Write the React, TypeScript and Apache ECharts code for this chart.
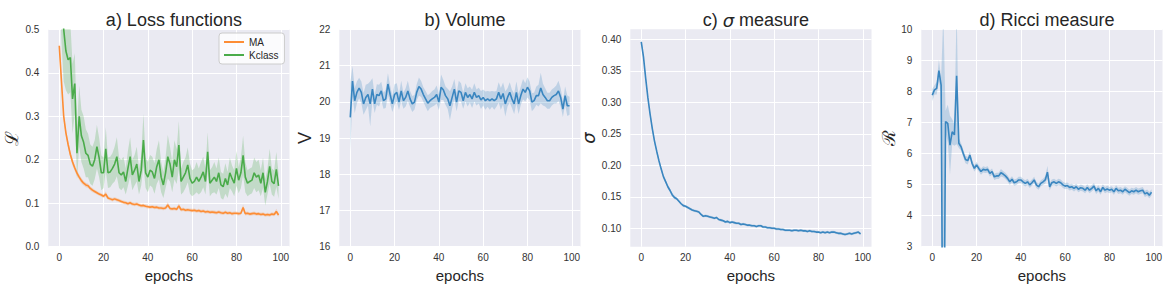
import React, { useEffect, useRef } from "react";
import * as echarts from "echarts";

const epochs: number[] = Array.from({ length: 100 }, (_, i) => i);
const xTicks = [0, 20, 40, 60, 80, 100];

const titles = ["a) Loss functions", "b) Volume", "c) σ measure", "d) Ricci measure"];

// a) Loss functions
const maMean = [
  0.462, 0.38, 0.30, 0.262, 0.235, 0.212, 0.195, 0.181, 0.169, 0.160,
  0.152, 0.146, 0.142, 0.140, 0.134, 0.130, 0.127, 0.124, 0.121, 0.119,
  0.116, 0.121, 0.112, 0.110, 0.108, 0.110, 0.108, 0.106, 0.104, 0.102,
  0.101, 0.099, 0.101, 0.098, 0.097, 0.098, 0.096, 0.094, 0.095, 0.093,
  0.092, 0.091, 0.092, 0.090, 0.091, 0.089, 0.089, 0.088, 0.089, 0.096,
  0.088, 0.087, 0.088, 0.086, 0.094, 0.085, 0.086, 0.084, 0.085, 0.084,
  0.083, 0.084, 0.082, 0.083, 0.081, 0.082, 0.080, 0.081, 0.079, 0.080,
  0.079, 0.078, 0.080, 0.078, 0.077, 0.079, 0.077, 0.078, 0.076, 0.077,
  0.077, 0.076, 0.077, 0.090, 0.076, 0.077, 0.075, 0.076, 0.077, 0.075,
  0.076, 0.074, 0.075, 0.073, 0.074, 0.073, 0.075, 0.074, 0.081, 0.073,
];
const maCi = [
  0.012, 0.012, 0.010, 0.008, 0.008, 0.008, 0.008, 0.007, 0.007, 0.006,
  0.006, 0.005, 0.005, 0.005, 0.005, 0.005, 0.004, 0.004, 0.004, 0.004,
  0.004, 0.006, 0.004, 0.004, 0.004, 0.004, 0.004, 0.004, 0.004, 0.004,
  0.004, 0.004, 0.004, 0.004, 0.004, 0.004, 0.004, 0.004, 0.004, 0.004,
  0.004, 0.004, 0.004, 0.004, 0.004, 0.004, 0.004, 0.004, 0.004, 0.006,
  0.004, 0.004, 0.004, 0.004, 0.006, 0.004, 0.004, 0.004, 0.004, 0.004,
  0.004, 0.004, 0.004, 0.004, 0.004, 0.004, 0.004, 0.004, 0.004, 0.004,
  0.004, 0.004, 0.004, 0.004, 0.004, 0.004, 0.004, 0.004, 0.004, 0.004,
  0.004, 0.004, 0.004, 0.007, 0.004, 0.004, 0.004, 0.004, 0.004, 0.004,
  0.004, 0.004, 0.004, 0.004, 0.004, 0.004, 0.004, 0.004, 0.006, 0.004,
];
const kMean = [
  0.80, 0.62, 0.50, 0.45, 0.43, 0.435, 0.34, 0.375, 0.215, 0.30,
  0.255, 0.24, 0.215, 0.21, 0.19, 0.185, 0.20, 0.23, 0.205, 0.17,
  0.17, 0.225, 0.17, 0.172, 0.18, 0.19, 0.207, 0.17, 0.165, 0.172,
  0.15, 0.18, 0.207, 0.165, 0.176, 0.19, 0.15, 0.176, 0.245, 0.17,
  0.16, 0.176, 0.172, 0.157, 0.184, 0.20, 0.16, 0.142, 0.17, 0.207,
  0.19, 0.16, 0.20, 0.184, 0.234, 0.15, 0.16, 0.17, 0.188, 0.157,
  0.146, 0.15, 0.16, 0.15, 0.16, 0.172, 0.15, 0.218, 0.146, 0.153,
  0.16, 0.15, 0.17, 0.142, 0.138, 0.157, 0.142, 0.17, 0.157, 0.146,
  0.18, 0.153, 0.17, 0.21, 0.16, 0.146, 0.15, 0.153, 0.17, 0.16,
  0.165, 0.146, 0.17, 0.125, 0.15, 0.185, 0.15, 0.145, 0.178, 0.14,
];
const kCi = [
  0.20, 0.15, 0.12, 0.09, 0.08, 0.08, 0.08, 0.07, 0.06, 0.07,
  0.06, 0.06, 0.055, 0.05, 0.045, 0.045, 0.045, 0.05, 0.045, 0.04,
  0.035, 0.05, 0.035, 0.035, 0.035, 0.04, 0.045, 0.035, 0.035, 0.035,
  0.03, 0.04, 0.045, 0.035, 0.035, 0.04, 0.03, 0.035, 0.06, 0.035,
  0.035, 0.035, 0.035, 0.035, 0.04, 0.045, 0.035, 0.03, 0.035, 0.05,
  0.04, 0.035, 0.045, 0.04, 0.055, 0.03, 0.035, 0.035, 0.04, 0.035,
  0.03, 0.03, 0.035, 0.03, 0.035, 0.035, 0.03, 0.045, 0.03, 0.03,
  0.035, 0.03, 0.035, 0.03, 0.03, 0.035, 0.03, 0.035, 0.03, 0.03,
  0.04, 0.03, 0.035, 0.045, 0.035, 0.03, 0.03, 0.03, 0.035, 0.035,
  0.035, 0.03, 0.035, 0.03, 0.03, 0.04, 0.03, 0.03, 0.04, 0.03,
];

// b) Volume
const volMean = [
  19.57, 20.57, 20.03, 20.26, 20.38, 20.26, 19.94, 20.12, 20.2, 19.94,
  20.35, 19.94, 20.2, 20.17, 20.3, 20.03, 20.08, 20.49, 20.2, 19.94,
  20.2, 20.26, 19.99, 20.3, 20.03, 20.12, 20.3, 20.08, 19.94, 19.99,
  20.26, 20.42, 20.35, 20.2, 20.08, 19.96, 20.03, 20.08, 20.12, 20.2,
  19.99, 20.4, 20.33, 20.17, 20.08, 19.89, 20.12, 20.35, 19.99, 20.3,
  20.26, 20.03, 20.26, 20.12, 20.2, 20.08, 20.26, 20.12, 20.17, 20.05,
  20.12, 20.03, 20.08, 20.03, 20.08, 20.03, 20.08, 20.26, 20.08, 20.23,
  19.94, 20.12, 20.26, 20.08, 19.94, 20.26, 19.94, 20.17, 20.35, 20.26,
  20.4, 20.3, 19.99, 20.03, 20.17, 20.17, 20.38, 20.2, 20.12, 20.03,
  20.03, 20.12, 20.17, 20.2, 20.3, 20.12, 19.8, 20.17, 19.89, 19.89,
];
const volCi = [
  0.95, 0.42, 0.35, 0.30, 0.28, 0.30, 0.30, 0.35, 0.30, 0.62,
  0.30, 0.25, 0.28, 0.30, 0.25, 0.22, 0.25, 0.30, 0.25, 0.22,
  0.28, 0.25, 0.22, 0.28, 0.22, 0.25, 0.28, 0.22, 0.22, 0.20,
  0.22, 0.25, 0.22, 0.20, 0.22, 0.22, 0.20, 0.22, 0.22, 0.25,
  0.22, 0.35, 0.28, 0.25, 0.28, 0.40, 0.30, 0.28, 0.25, 0.28,
  0.25, 0.22, 0.25, 0.25, 0.22, 0.25, 0.25, 0.22, 0.22, 0.25,
  0.22, 0.25, 0.22, 0.25, 0.22, 0.25, 0.22, 0.28, 0.30, 0.30,
  0.35, 0.25, 0.28, 0.25, 0.28, 0.30, 0.28, 0.25, 0.28, 0.25,
  0.28, 0.25, 0.25, 0.22, 0.25, 0.30, 0.42, 0.30, 0.25, 0.22,
  0.22, 0.22, 0.22, 0.25, 0.28, 0.25, 0.22, 0.25, 0.28, 0.25,
];

// c) sigma measure
const sigMean = [
  0.396, 0.372, 0.338, 0.307, 0.281, 0.258, 0.238, 0.222, 0.207, 0.194,
  0.182, 0.174, 0.166, 0.160, 0.153, 0.149, 0.147, 0.143, 0.139, 0.136,
  0.135, 0.133, 0.131, 0.129, 0.128, 0.127, 0.126, 0.122, 0.119, 0.120,
  0.119, 0.118, 0.117, 0.116, 0.117, 0.114, 0.113, 0.112, 0.110, 0.111,
  0.109, 0.110, 0.109, 0.108, 0.108, 0.106, 0.107, 0.106, 0.105, 0.105,
  0.104, 0.104, 0.103, 0.104, 0.104, 0.102, 0.102, 0.101, 0.101, 0.100,
  0.100, 0.099, 0.099, 0.098, 0.098, 0.097, 0.097, 0.097, 0.096, 0.097,
  0.097, 0.096, 0.097, 0.096, 0.096, 0.095, 0.096, 0.095, 0.095, 0.094,
  0.094, 0.093, 0.094, 0.093, 0.094, 0.093, 0.094, 0.094, 0.093, 0.092,
  0.092, 0.091, 0.090, 0.091, 0.092, 0.091, 0.092, 0.093, 0.094, 0.091,
];
const sigCi = [
  0.004, 0.004, 0.004, 0.004, 0.004, 0.004, 0.004, 0.004, 0.004, 0.004,
  0.003, 0.003, 0.003, 0.003, 0.003, 0.003, 0.002, 0.002, 0.002, 0.002,
  0.002, 0.002, 0.002, 0.002, 0.002, 0.002, 0.002, 0.002, 0.002, 0.002,
  0.002, 0.002, 0.002, 0.002, 0.002, 0.002, 0.002, 0.002, 0.002, 0.002,
  0.002, 0.002, 0.002, 0.002, 0.002, 0.002, 0.002, 0.002, 0.002, 0.002,
  0.002, 0.002, 0.002, 0.002, 0.002, 0.002, 0.002, 0.002, 0.002, 0.002,
  0.002, 0.002, 0.002, 0.002, 0.002, 0.002, 0.002, 0.002, 0.002, 0.002,
  0.002, 0.002, 0.002, 0.002, 0.002, 0.002, 0.002, 0.002, 0.002, 0.002,
  0.002, 0.002, 0.002, 0.002, 0.002, 0.002, 0.002, 0.002, 0.002, 0.002,
  0.002, 0.002, 0.002, 0.002, 0.002, 0.002, 0.002, 0.002, 0.002, 0.002,
];

// d) Ricci measure
const ricMean = [
  7.88, 8.05, 8.1, 8.67, 8.2, -3.5, 7.03, 6.97, 6.27, 6.7,
  6.6, 8.5, 6.33, 6.22, 6.0, 5.81, 5.77, 5.95, 5.68, 5.52,
  5.63, 5.52, 5.42, 5.49, 5.47, 5.49, 5.36, 5.42, 5.25, 5.28,
  5.28, 5.38, 5.34, 5.28, 5.2, 5.09, 5.17, 5.06, 5.09, 5.15,
  5.15, 5.09, 5.04, 5.09, 4.99, 5.06, 5.15, 4.99, 4.93, 5.04,
  5.09, 5.15, 5.4, 4.93, 5.06, 5.09, 5.04, 5.09, 5.06, 4.99,
  4.95, 4.97, 4.91, 4.93, 4.88, 4.93, 4.85, 4.9, 4.88, 4.82,
  4.91, 4.82, 4.88, 4.95, 4.8, 4.88, 4.77, 4.91, 4.82, 4.86,
  4.82, 4.85, 4.77, 4.88, 4.8, 4.82, 4.77, 4.85, 4.8, 4.74,
  4.8, 4.77, 4.82, 4.77, 4.8, 4.82, 4.7, 4.74, 4.66, 4.75,
];
const ricCi = [
  0.2, 0.15, 0.2, 0.35, 0.25, 14, 0.35, 0.6, 0.95, 0.4,
  0.35, 2.2, 0.15, 0.12, 0.12, 0.12, 0.12, 0.12, 0.1, 0.1,
  0.1, 0.1, 0.1, 0.1, 0.1, 0.1, 0.1, 0.1, 0.1, 0.1,
  0.1, 0.12, 0.1, 0.1, 0.1, 0.1, 0.1, 0.1, 0.1, 0.1,
  0.1, 0.1, 0.1, 0.1, 0.1, 0.1, 0.1, 0.1, 0.1, 0.1,
  0.1, 0.12, 0.2, 0.12, 0.1, 0.1, 0.1, 0.1, 0.1, 0.1,
  0.1, 0.1, 0.1, 0.1, 0.1, 0.1, 0.1, 0.1, 0.1, 0.1,
  0.1, 0.1, 0.1, 0.1, 0.1, 0.1, 0.1, 0.1, 0.1, 0.1,
  0.1, 0.1, 0.1, 0.1, 0.1, 0.1, 0.1, 0.1, 0.1, 0.1,
  0.1, 0.1, 0.1, 0.1, 0.1, 0.1, 0.1, 0.1, 0.1, 0.1,
];

const sigmaTicks = [0.1, 0.15, 0.2, 0.25, 0.3, 0.35, 0.4];

const BLUE = "#3a86c0";
const ORANGE = "#fd8d35";
const GREEN = "#4aab4a";
const FONT = "Liberation Sans";
const TXT = "#262626";

const gridLefts = [48.3, 339.3, 630.3, 921.3];
const GRID_W = 241.2;
const GRID_TOP = 29.3;
const GRID_H = 217.4;

function hexToRgba(hex: string, a: number) {
  const n = parseInt(hex.slice(1), 16);
  return `rgba(${(n >> 16) & 255},${(n >> 8) & 255},${n & 255},${a})`;
}

function bandAndLine(idx: number, name: string, mean: number[], ci: number[], color: string) {
  const fill = hexToRgba(color, 0.25);
  return [
    {
      type: "custom",
      name: name + " band",
      xAxisIndex: idx,
      yAxisIndex: idx,
      data: [[epochs[0], mean[0]]],
      silent: true,
      renderItem: (params: any, api: any) => {
        const upper = epochs.map((e, i) => api.coord([e, mean[i] + ci[i]]));
        const lower = epochs.map((e, i) => api.coord([e, mean[i] - ci[i]])).reverse();
        const cs = params.coordSys;
        return {
          type: "polygon",
          shape: { points: upper.concat(lower) },
          style: { fill, stroke: "none" },
          clipPath: { type: "rect", shape: { x: cs.x, y: cs.y, width: cs.width, height: cs.height } },
        };
      },
    },
    {
      type: "line",
      name,
      xAxisIndex: idx,
      yAxisIndex: idx,
      data: epochs.map((e, i) => [e, mean[i]]),
      symbol: "none",
      showSymbol: false,
      lineStyle: { color, width: 1.6 },
      itemStyle: { color },
    },
  ];
}

export default function App() {
  const ref = useRef<HTMLDivElement>(null);
  useEffect(() => {
    document.body.style.margin = "0";
    if (!ref.current) return;
    const chart = echarts.init(ref.current, undefined, { renderer: "svg" });

    const labelStyle = { fontSize: 10, color: "#333", fontFamily: FONT };
    const xAxes = gridLefts.map((_, i) => ({
      type: "value",
      gridIndex: i,
      min: -4.95,
      max: 103.95,
      name: "epochs",
      nameLocation: "middle",
      nameGap: 18,
      nameTextStyle: { fontSize: 15, color: TXT, fontFamily: FONT },
      axisLine: { show: false },
      axisTick: { show: false, customValues: xTicks },
      axisLabel: { ...labelStyle, margin: 6, customValues: xTicks },
      splitLine: { show: true, lineStyle: { color: "#ffffff", width: 1 } },
    }));

    const yCommon = (i: number) => ({
      type: "value",
      gridIndex: i,
      nameLocation: "middle",
      nameRotate: 90,
      axisLine: { show: false },
      axisTick: { show: false },
      splitLine: { show: true, lineStyle: { color: "#ffffff", width: 1 } },
    });

    const yAxes = [
      {
        ...yCommon(0),
        min: 0,
        max: 0.5,
        interval: 0.1,
        name: "ℒ",
        nameGap: 28,
        nameTextStyle: { fontSize: 18, color: TXT, fontFamily: "DejaVu Serif" },
        axisLabel: { ...labelStyle, margin: 9, formatter: (v: number) => v.toFixed(1) },
      },
      {
        ...yCommon(1),
        min: 16,
        max: 22,
        interval: 1,
        name: "V",
        nameGap: 25,
        nameTextStyle: { fontSize: 18, color: TXT, fontFamily: FONT },
        axisLabel: { ...labelStyle, margin: 9, formatter: (v: number) => String(Math.round(v)) },
      },
      {
        ...yCommon(2),
        min: 0.0708,
        max: 0.4159,
        name: "σ",
        nameGap: 30,
        nameTextStyle: { fontSize: 18, color: TXT, fontFamily: "DejaVu Sans", fontStyle: "italic" },
        axisTick: { show: false, customValues: sigmaTicks },
        axisLabel: { ...labelStyle, margin: 9, customValues: sigmaTicks, formatter: (v: number) => v.toFixed(2) },
      },
      {
        ...yCommon(3),
        min: 3,
        max: 10,
        interval: 1,
        name: "ℛ",
        nameGap: 21,
        nameTextStyle: { fontSize: 18, color: TXT, fontFamily: "DejaVu Serif" },
        axisLabel: { ...labelStyle, margin: 9, formatter: (v: number) => String(Math.round(v)) },
      },
    ];

    const titleOpts = titles.map((t, i) => {
      const cx = gridLefts[i] + GRID_W / 2;
      if (i === 2) {
        return {
          text: "{n|c) }{s|σ}{n| measure}",
          left: cx,
          top: 6,
          textAlign: "center",
          textStyle: {
            fontWeight: "normal",
            rich: {
              n: { fontSize: 18, fontWeight: "normal", color: TXT, fontFamily: FONT },
              s: { fontSize: 18, fontWeight: "normal", color: TXT, fontFamily: "DejaVu Sans", fontStyle: "italic" },
            },
          },
        };
      }
      return {
        text: t,
        left: cx,
        top: 6,
        textAlign: "center",
        textStyle: { fontSize: 18, fontWeight: "normal", color: TXT, fontFamily: FONT },
      };
    });

    const series = [
      ...bandAndLine(0, "MA", maMean, maCi, ORANGE),
      ...bandAndLine(0, "Kclass", kMean, kCi, GREEN),
      ...bandAndLine(1, "Volume", volMean, volCi, BLUE),
      ...bandAndLine(2, "Sigma", sigMean, sigCi, BLUE),
      ...bandAndLine(3, "Ricci", ricMean, ricCi, BLUE),
    ];

    chart.setOption({
      animation: false,
      backgroundColor: "#ffffff",
      textStyle: { fontFamily: FONT },
      title: titleOpts,
      legend: {
        data: [
          { name: "MA", icon: "rect" },
          { name: "Kclass", icon: "rect" },
        ],
        orient: "vertical",
        left: 219,
        top: 33,
        itemWidth: 20,
        itemHeight: 2,
        itemGap: 3,
        padding: [4, 6, 4, 5],
        backgroundColor: "rgba(255,255,255,0.8)",
        borderColor: "#cccccc",
        borderWidth: 1,
        borderRadius: 3,
        textStyle: { fontSize: 10, color: TXT, fontFamily: FONT },
      },
      grid: gridLefts.map((l) => ({
        left: l,
        top: GRID_TOP,
        width: GRID_W,
        height: GRID_H,
        show: true,
        backgroundColor: "#EAEAF2",
        borderWidth: 0,
        containLabel: false,
        outerBoundsMode: "none",
      })),
      xAxis: xAxes,
      yAxis: yAxes,
      series,
    });
    return () => chart.dispose();
  }, []);
  return <div ref={ref} style={{ width: 1170, height: 288 }} />;
}
